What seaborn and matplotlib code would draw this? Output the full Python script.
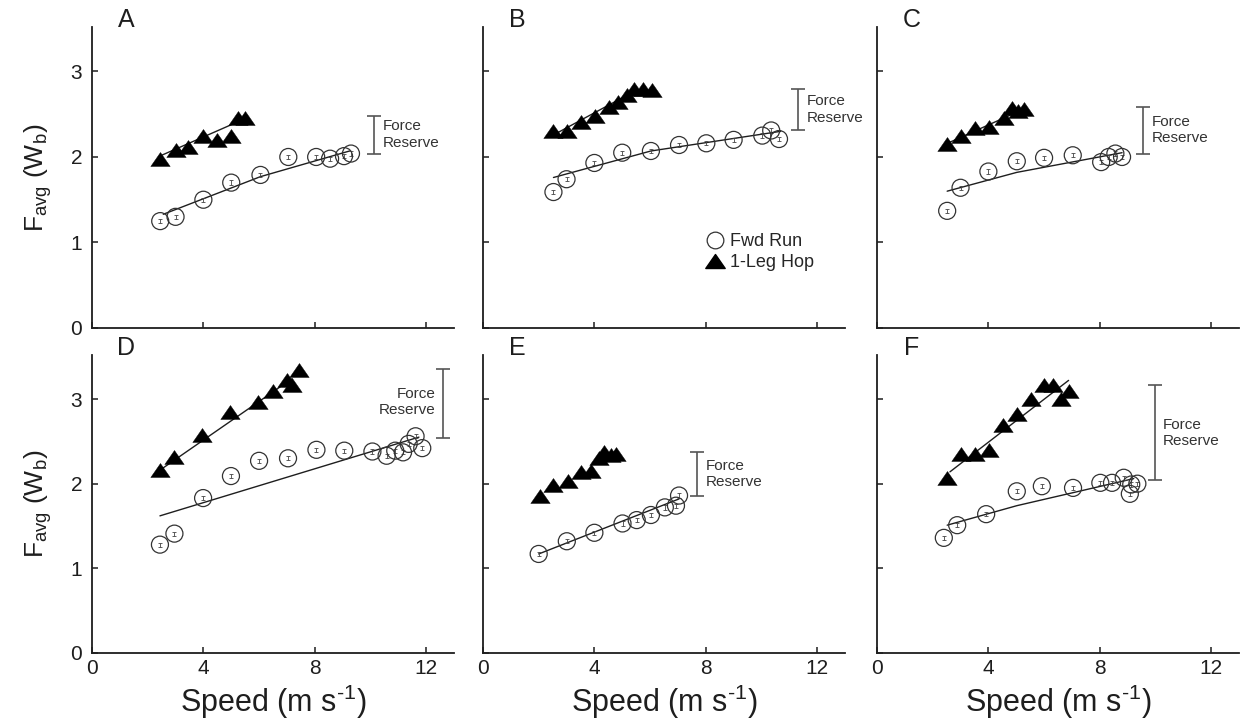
import numpy as np
import pandas as pd
import matplotlib
matplotlib.use("Agg")
import matplotlib.pyplot as plt
import seaborn as sns
from matplotlib.lines import Line2D
from matplotlib.path import Path

# ---------------- data ----------------
panels = ["A", "B", "C", "D", "E", "F"]
xticks = [0, 4, 8, 12]
yticks = [0, 1, 2, 3]
series_names = ["Fwd Run", "1-Leg Hop"]

run_speed_A = [2.45, 3.0, 4.0, 5.0, 6.05, 7.05, 8.05, 8.55, 9.05, 9.3]
run_force_A = [1.25, 1.30, 1.50, 1.70, 1.79, 2.00, 2.00, 1.98, 2.01, 2.04]
hop_speed_A = [2.45, 3.0, 3.45, 4.0, 4.5, 5.0, 5.25, 5.5]
hop_force_A = [1.98, 2.08, 2.12, 2.25, 2.20, 2.24, 2.45, 2.45]
run_fit_speed_A = [2.56, 6.05, 9.25]
run_fit_force_A = [1.33, 1.77, 2.07]
hop_fit_speed_A = [2.5, 5.3]
hop_fit_force_A = [2.02, 2.42]
reserve_A = [10.13, 2.04, 2.48]

run_speed_B = [2.53, 3.0, 4.0, 5.0, 6.03, 7.04, 8.02, 9.0, 10.03, 10.35, 10.63]
run_force_B = [1.59, 1.74, 1.93, 2.05, 2.07, 2.14, 2.16, 2.20, 2.25, 2.31, 2.21]
hop_speed_B = [2.53, 3.0, 3.52, 4.02, 4.51, 4.84, 5.17, 5.43, 5.73, 6.07]
hop_force_B = [2.30, 2.30, 2.41, 2.48, 2.59, 2.64, 2.72, 2.79, 2.79, 2.78]
run_fit_speed_B = [2.53, 6.03, 10.69]
run_fit_force_B = [1.76, 2.07, 2.30]
hop_fit_speed_B = [2.6, 5.5]
hop_fit_force_B = [2.27, 2.78]
reserve_B = [11.32, 2.31, 2.80]

run_speed_C = [2.52, 3.0, 4.0, 5.02, 6.0, 7.03, 8.05, 8.32, 8.56, 8.8]
run_force_C = [1.37, 1.64, 1.83, 1.95, 1.99, 2.02, 1.94, 2.00, 2.04, 2.00]
hop_speed_C = [2.52, 3.0, 3.52, 4.04, 4.56, 4.86, 5.08, 5.29]
hop_force_C = [2.15, 2.25, 2.34, 2.35, 2.46, 2.57, 2.54, 2.56]
run_fit_speed_C = [2.52, 5.02, 8.8]
run_fit_force_C = [1.60, 1.82, 2.05]
hop_fit_speed_C = [2.6, 5.2]
hop_fit_force_C = [2.17, 2.55]
reserve_C = [9.56, 2.04, 2.59]

run_speed_D = [2.44, 2.96, 3.99, 4.99, 6.0, 7.04, 8.06, 9.06, 10.07, 10.58, 10.89, 11.17, 11.37, 11.62, 11.86]
run_force_D = [1.28, 1.41, 1.83, 2.09, 2.27, 2.30, 2.40, 2.39, 2.38, 2.33, 2.39, 2.37, 2.47, 2.56, 2.42]
hop_speed_D = [2.44, 2.93, 3.96, 4.97, 5.97, 6.49, 7.0, 7.18, 7.45]
hop_force_D = [2.16, 2.31, 2.58, 2.85, 2.97, 3.09, 3.23, 3.16, 3.34]
run_fit_speed_D = [2.44, 11.74]
run_fit_force_D = [1.62, 2.55]
hop_fit_speed_D = [2.44, 7.18]
hop_fit_force_D = [2.16, 3.24]
reserve_D = [12.59, 2.54, 3.35]

run_speed_E = [2.0, 3.01, 4.0, 5.01, 5.52, 6.03, 6.53, 6.93, 7.04]
run_force_E = [1.17, 1.32, 1.42, 1.53, 1.57, 1.63, 1.72, 1.74, 1.86]
hop_speed_E = [2.03, 2.53, 3.04, 3.52, 3.88, 4.18, 4.36, 4.6, 4.78]
hop_force_E = [1.86, 1.98, 2.03, 2.14, 2.15, 2.30, 2.37, 2.34, 2.35]
run_fit_speed_E = [2.0, 7.04]
run_fit_force_E = [1.17, 1.82]
hop_fit_speed_E = []
hop_fit_force_E = []
reserve_E = [7.7, 1.85, 2.38]

run_speed_F = [2.4, 2.88, 3.92, 5.02, 5.92, 7.04, 8.02, 8.44, 8.86, 9.08, 9.13, 9.35]
run_force_F = [1.36, 1.51, 1.64, 1.91, 1.97, 1.95, 2.01, 2.01, 2.07, 1.88, 1.99, 2.00]
hop_speed_F = [2.52, 3.0, 3.52, 4.04, 4.52, 5.02, 5.54, 5.98, 6.32, 6.61, 6.88]
hop_force_F = [2.07, 2.35, 2.35, 2.40, 2.69, 2.82, 3.00, 3.16, 3.16, 3.00, 3.10]
run_fit_speed_F = [2.52, 5.02, 9.22]
run_fit_force_F = [1.51, 1.74, 2.06]
hop_fit_speed_F = [2.62, 6.88]
hop_fit_force_F = [2.14, 3.22]
reserve_F = [9.97, 2.04, 3.16]

G = globals()
data = {p: dict(rs=G["run_speed_" + p], rf=G["run_force_" + p],
                hs=G["hop_speed_" + p], hf=G["hop_force_" + p],
                rfs=G["run_fit_speed_" + p], rff=G["run_fit_force_" + p],
                hfs=G["hop_fit_speed_" + p], hff=G["hop_fit_force_" + p],
                res=G["reserve_" + p]) for p in panels}

# ---------------- style ----------------
sns.set_style("ticks")
plt.rcParams["font.family"] = ["Liberation Sans", "DejaVu Sans"]
plt.rcParams["mathtext.fontset"] = "custom"
plt.rcParams["mathtext.rm"] = "Liberation Sans"
plt.rcParams["mathtext.it"] = "Liberation Sans:italic"

INK = "#1e1e1e"
tri_marker = Path([(0, 0.72), (-1, -0.72), (1, -0.72), (0, 0.72)], closed=True)

fig = plt.figure(figsize=(12.42, 7.19), dpi=100)
W, H = 1242.0, 719.0
lefts = [92, 483, 877]
width = 362
rows = [(27, 328), (355, 653)]

XLAB = r"Speed (m s$^{\text{-1}}$)"
XLAB_FALLBACK = r"Speed (m s$^{\mathregular{-1}}$)"
xlabels = []

for i, p in enumerate(panels):
    r, c = divmod(i, 3)
    top, bot = rows[r]
    ax = fig.add_axes([lefts[c] / W, 1 - bot / H, width / W, (bot - top) / H])
    d = data[p]

    if len(d["rfs"]):
        sns.lineplot(x=d["rfs"], y=d["rff"], ax=ax, color=INK, lw=1.0,
                     sort=False, estimator=None)
    if len(d["hfs"]):
        sns.lineplot(x=d["hfs"], y=d["hff"], ax=ax, color=INK, lw=1.0,
                     sort=False, estimator=None)

    # small SE bars inside circles
    ax.errorbar(d["rs"], d["rf"], yerr=0.025, fmt="none", ecolor="#444",
                elinewidth=0.6, capsize=1.2, capthick=0.6, zorder=3)
    sns.scatterplot(x=d["rs"], y=d["rf"], ax=ax, marker="o", s=150,
                    facecolors="none", edgecolors="#333", linewidth=0.9,
                    zorder=4, legend=False)
    sns.scatterplot(x=d["hs"], y=d["hf"], ax=ax, marker=tri_marker, s=195,
                    color="black", edgecolor="black", linewidth=0.3,
                    zorder=5, legend=False)

    # force reserve bracket
    rx, lo, hi = d["res"]
    mid = (lo + hi) / 2
    ax.errorbar([rx], [mid], yerr=[(hi - lo) / 2], fmt="none", ecolor="#555",
                elinewidth=1.2, capsize=5, capthick=1.2, zorder=3)
    if p == "D":
        ax.text(rx - 0.25, mid + 0.02, "Force\nReserve", ha="right", va="center",
                fontsize=11, linespacing=1.25, color="#333")
    else:
        ax.text(rx + 0.3, mid, "Force\nReserve", ha="left", va="center",
                fontsize=11, linespacing=1.25, color="#333")

    ax.set_xlim(0, 13)
    ax.set_ylim(0, 3.52)
    ax.set_xticks(xticks)
    ax.set_yticks(yticks)
    ax.set_xticklabels([str(t) for t in xticks])
    ax.set_yticklabels([str(t) for t in yticks])
    sns.despine(ax=ax)
    for s in ("left", "bottom"):
        ax.spines[s].set_linewidth(1.3)
        ax.spines[s].set_color(INK)
    ax.tick_params(direction="in", length=4, width=1.1, color=INK,
                   labelsize=15, pad=4, labelcolor=INK)
    ax.tick_params(axis="y", pad=7)
    ax.tick_params(labelbottom=(r == 1), labelleft=(c == 0))
    ax.set_xlabel("")
    ax.set_ylabel("")
    if r == 1:
        ax.set_xlabel(XLAB, fontsize=22, labelpad=4, color=INK)
        xlabels.append(ax)
    if c == 0:
        ax.set_ylabel(r"F$_{\mathregular{avg}}$ (W$_{\mathregular{b}}$)",
                      fontsize=19, color=INK)
        ax.yaxis.set_label_coords(-0.105, 0.5)
    ax.text(0.095, 1.022, p, transform=ax.transAxes, fontsize=18,
            ha="center", va="center", color=INK)

    if p == "B":
        handles = [
            Line2D([], [], ls="none", marker="o", ms=12, mfc="none",
                   mec="#333", mew=0.9),
            Line2D([], [], ls="none", marker=tri_marker, ms=14, color="black"),
        ]
        ax.legend(handles, series_names, loc="center left",
                  bbox_to_anchor=(0.615, 0.252), frameon=False, fontsize=13,
                  handlelength=1.0, handletextpad=0.35, borderpad=0,
                  borderaxespad=0, labelspacing=0.2)

try:
    fig.canvas.draw()
except Exception:
    for ax in xlabels:
        ax.set_xlabel(XLAB_FALLBACK, fontsize=22, labelpad=4, color=INK)

fig.savefig("out.png", dpi=100)
